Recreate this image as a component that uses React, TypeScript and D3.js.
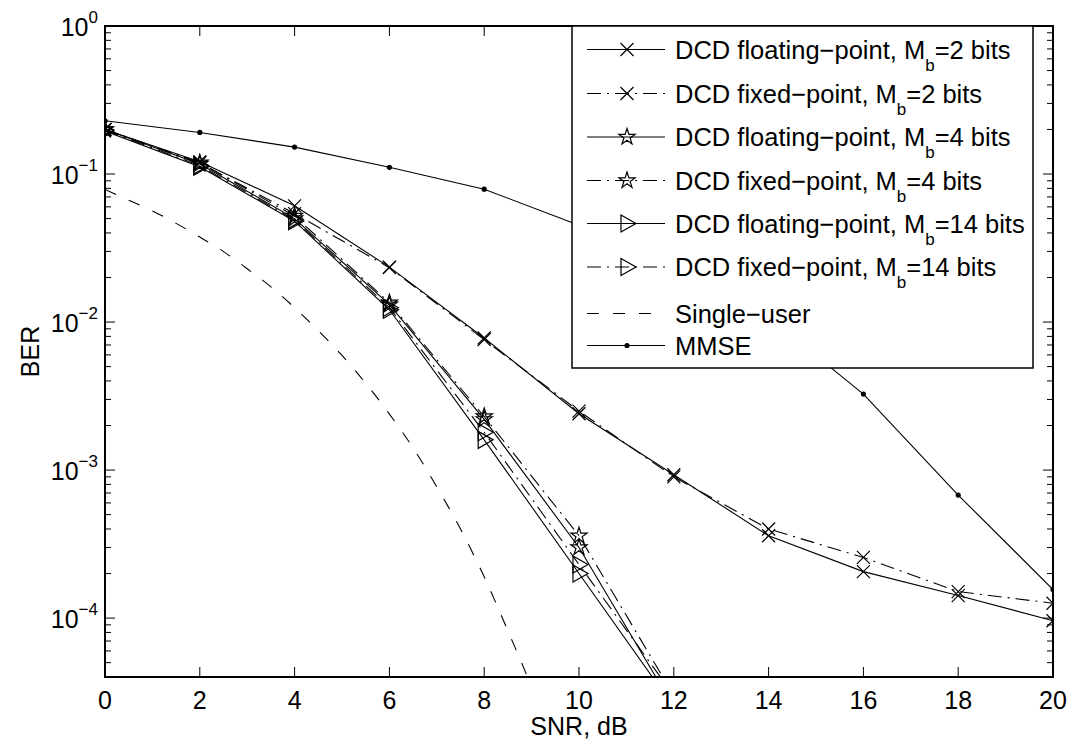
import React from "react";
import * as d3 from "d3";

const snr = [0, 2, 4, 6, 8, 10, 12, 14, 16, 18, 20];
const floatMb2 = [0.2, 0.121, 0.061, 0.0235, 0.0078, 0.0024, 0.00093, 0.00036, 0.000206, 0.000142, 0.000096];
const fixedMb2 = [0.2, 0.119, 0.054, 0.0233, 0.0076, 0.0025, 0.0009, 0.0004, 0.000257, 0.000151, 0.000126];
const snrShort = [0, 2, 4, 6, 8, 10, 12];
const floatMb4 = [0.2, 0.117, 0.05, 0.0131, 0.0022, 0.0003, 0.000025];
const fixedMb4 = [0.2, 0.119, 0.052, 0.0135, 0.0023, 0.00036, 0.00003];
const floatMb14 = [0.195, 0.112, 0.048, 0.0121, 0.0016, 0.0002, 0.000025];
const fixedMb14 = [0.198, 0.114, 0.049, 0.0125, 0.0018, 0.00023, 0.00003];
const mmse = [0.229, 0.191, 0.152, 0.111, 0.079, 0.045, 0.023, 0.0108, 0.00326, 0.000678, 0.000156];
const snrSU = [0, 0.5, 1, 1.5, 2, 2.5, 3, 3.5, 4, 4.5, 5, 5.5, 6, 6.5, 7, 7.5, 8, 8.5, 9, 9.5, 10];
const singleUser = [0.0786, 0.0666, 0.0563, 0.0464, 0.0375, 0.0299, 0.0229, 0.0173, 0.0125, 0.00875, 0.00595, 0.00386, 0.00239, 0.00141, 0.00077, 0.0004, 0.00019, 0.000082, 0.000034, 0.000012, 0.0000039];

const xTicks = [0, 2, 4, 6, 8, 10, 12, 14, 16, 18, 20];
const yDecades = [0, -1, -2, -3, -4];

type Marker = "x" | "star" | "tri" | "dot" | "none";
type Series = { name: string; sub?: string; tail: string; xs: number[]; ys: number[]; dash: string | null; marker: Marker };

const series: Series[] = [
  { name: "DCD floating\u2212point, M", sub: "b", tail: "=2 bits", xs: snr, ys: floatMb2, dash: null, marker: "x" },
  { name: "DCD fixed\u2212point, M", sub: "b", tail: "=2 bits", xs: snr, ys: fixedMb2, dash: "14,6,2,6", marker: "x" },
  { name: "DCD floating\u2212point, M", sub: "b", tail: "=4 bits", xs: snrShort, ys: floatMb4, dash: null, marker: "star" },
  { name: "DCD fixed\u2212point, M", sub: "b", tail: "=4 bits", xs: snrShort, ys: fixedMb4, dash: "14,6,2,6", marker: "star" },
  { name: "DCD floating\u2212point, M", sub: "b", tail: "=14 bits", xs: snrShort, ys: floatMb14, dash: null, marker: "tri" },
  { name: "DCD fixed\u2212point, M", sub: "b", tail: "=14 bits", xs: snrShort, ys: fixedMb14, dash: "14,6,2,6", marker: "tri" },
  { name: "Single\u2212user", tail: "", xs: snrSU, ys: singleUser, dash: "12,14", marker: "none" },
  { name: "MMSE", tail: "", xs: snr, ys: mmse, dash: null, marker: "dot" },
];

const legendRowY = [49.5, 93.5, 137, 180.5, 223.5, 267, 313.5, 345.5];

const W = 1074, H = 742;
const L = 105, R = 1053, T = 26, B = 677;
const FONT = "'Liberation Sans', Arial, Helvetica, sans-serif";

function starPath(R0: number) {
  const r = R0 * 0.382;
  const pts: string[] = [];
  for (let i = 0; i < 10; i++) {
    const a = -Math.PI / 2 + (i * Math.PI) / 5;
    const rr = i % 2 === 0 ? R0 : r;
    pts.push(`${(rr * Math.cos(a)).toFixed(2)},${(rr * Math.sin(a)).toFixed(2)}`);
  }
  return "M" + pts.join("L") + "Z";
}
const STAR = starPath(8.5);

function MarkerShape({ m, cx, cy }: { m: Marker; cx: number; cy: number }) {
  if (m === "x") {
    const s = 6.5;
    return <path d={`M${cx - s},${cy - s}L${cx + s},${cy + s}M${cx - s},${cy + s}L${cx + s},${cy - s}`} stroke="#000" strokeWidth={1.2} fill="none" />;
  }
  if (m === "star") return <path d={STAR} transform={`translate(${cx},${cy})`} stroke="#000" strokeWidth={1.2} fill="none" />;
  if (m === "tri") return <path d={`M${cx - 6},${cy - 8.5}L${cx + 9},${cy}L${cx - 6},${cy + 8.5}Z`} stroke="#000" strokeWidth={1.2} fill="none" />;
  if (m === "dot") return <circle cx={cx} cy={cy} r={2.6} fill="#000" />;
  return null;
}

export default function App() {
  const x = d3.scaleLinear().domain([0, 20]).range([L, R]);
  const y = d3.scaleLog().domain([4e-5, 1]).range([B, T]);
  const line = d3
    .line<[number, number]>()
    .x((d) => x(d[0]))
    .y((d) => y(d[1]));
  const suLine = d3
    .line<[number, number]>()
    .x((d) => x(d[0]))
    .y((d) => y(d[1]))
    .curve(d3.curveMonotoneX);

  const minor: number[] = [];
  for (let e = -5; e < 0; e++) for (let k = 2; k <= 9; k++) {
    const v = k * Math.pow(10, e);
    if (v >= 4e-5 && v <= 1) minor.push(v);
  }

  return (
    <svg width={W} height={H} style={{ position: "absolute", left: 0, top: 0, background: "#fff" }} fontFamily={FONT}>
      <rect x={0} y={0} width={W} height={H} fill="#fff" />
      <defs>
        <clipPath id="plotclip">
          <rect x={L} y={T} width={R - L} height={B - T} />
        </clipPath>
      </defs>
      <g clipPath="url(#plotclip)">
        {series.map((s, i) => {
          const pts = s.xs.map((v, j) => [v, s.ys[j]] as [number, number]);
          return (
            <g key={i}>
              <path d={(s.marker === "none" ? suLine : line)(pts) || ""} fill="none" stroke="#000" strokeWidth={1.1} strokeDasharray={s.dash || undefined} />
              {s.marker !== "none" && pts.map((p, j) => <MarkerShape key={j} m={s.marker} cx={x(p[0])} cy={y(p[1])} />)}
            </g>
          );
        })}
      </g>
      <g stroke="#000" strokeWidth={1}>
        {xTicks.map((t) => (
          <g key={t}>
            <line x1={x(t)} x2={x(t)} y1={B} y2={B - 10} />
            <line x1={x(t)} x2={x(t)} y1={T} y2={T + 10} />
          </g>
        ))}
        {yDecades.map((e) => (
          <g key={e}>
            <line x1={L} x2={L + 10} y1={y(Math.pow(10, e))} y2={y(Math.pow(10, e))} />
            <line x1={R} x2={R - 10} y1={y(Math.pow(10, e))} y2={y(Math.pow(10, e))} />
          </g>
        ))}
        {minor.map((v, i) => (
          <g key={i}>
            <line x1={L} x2={L + 6} y1={y(v)} y2={y(v)} />
            <line x1={R} x2={R - 6} y1={y(v)} y2={y(v)} />
          </g>
        ))}
      </g>
      <rect x={L} y={T} width={R - L} height={B - T} fill="none" stroke="#000" strokeWidth={2} />
      <g fontSize={25} fill="#000">
        {xTicks.map((t) => (
          <text key={t} x={x(t)} y={709} textAnchor="middle">{t}</text>
        ))}
        {yDecades.map((e) => (
          <text key={e} x={98} y={y(Math.pow(10, e)) + 10} textAnchor="end">
            10<tspan fontSize={17} dy={-13}>{e === 0 ? "0" : "\u2212" + -e}</tspan>
          </text>
        ))}
        <text x={(L + R) / 2} y={735} textAnchor="middle">SNR, dB</text>
        <text transform={`translate(39,${(T + B) / 2}) rotate(-90)`} textAnchor="middle">BER</text>
      </g>
      <g>
        <rect x={572} y={T} width={461} height={342} fill="#fff" stroke="#000" strokeWidth={1.5} />
        {series.map((s, i) => {
          const cy = legendRowY[i];
          return (
            <g key={i}>
              <line x1={587} x2={665} y1={cy} y2={cy} stroke="#000" strokeWidth={1.1} strokeDasharray={s.dash || undefined} />
              {s.marker !== "none" && <MarkerShape m={s.marker} cx={627} cy={cy} />}
              <text x={675} y={cy + 9} fontSize={25.5} fill="#000">
                {s.name}
                {s.sub && <tspan fontSize={17} dy={12}>{s.sub}</tspan>}
                {s.tail && <tspan dy={s.sub ? -12 : 0}>{s.tail}</tspan>}
              </text>
            </g>
          );
        })}
      </g>
    </svg>
  );
}
